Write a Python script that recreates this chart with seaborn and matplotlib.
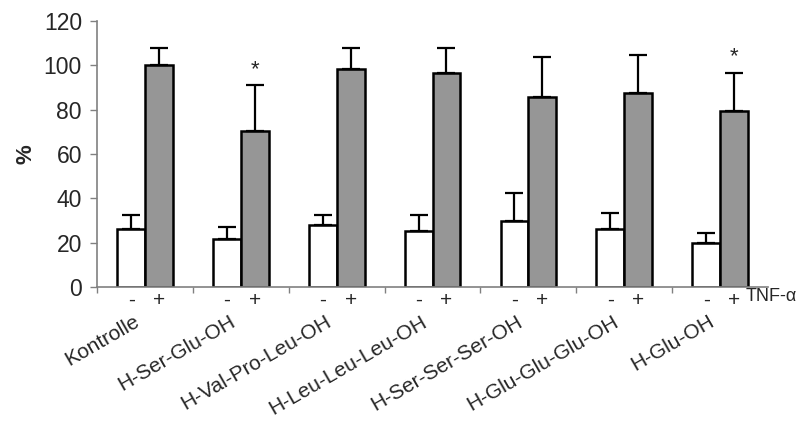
import matplotlib
matplotlib.use("Agg")
import matplotlib.pyplot as plt
import matplotlib.transforms as mtransforms
import seaborn as sns
import pandas as pd

# values (%)
groups = ["Kontrolle", "H-Ser-Glu-OH", "H-Val-Pro-Leu-OH", "H-Leu-Leu-Leu-OH",
          "H-Ser-Ser-Ser-OH", "H-Glu-Glu-Glu-OH", "H-Glu-OH"]
tnf_minus = [26.2, 21.7, 28.0, 25.4, 29.9, 26.2, 19.7]
tnf_minus_err = [6.3, 5.3, 4.5, 7.1, 12.6, 7.3, 4.7]
tnf_plus = [100.0, 70.4, 98.2, 96.5, 85.7, 87.4, 79.4]
tnf_plus_err = [8.0, 20.6, 9.8, 11.5, 17.9, 17.2, 17.3]
significant = [False, True, False, False, False, False, True]
yticks = [0, 20, 40, 60, 80, 100, 120]

df = pd.DataFrame({
    "group": groups * 2,
    "TNF": ["-"] * len(groups) + ["+"] * len(groups),
    "value": tnf_minus + tnf_plus,
})

sns.set_theme(style="ticks")
plt.rcParams["font.family"] = ["Liberation Sans", "DejaVu Sans"]

fig = plt.figure(figsize=(8.1, 4.21), dpi=100)
ax = fig.add_axes([0.12, 0.318, 0.828, 0.632])

sns.barplot(data=df, x="group", y="value", hue="TNF", order=groups,
            hue_order=["-", "+"], palette={"-": "white", "+": "#969696"},
            edgecolor="black", linewidth=1.8, width=0.58, errorbar=None,
            legend=False, ax=ax)

# upper error bars, signs under the bars, asterisks
errs = [tnf_minus_err, tnf_plus_err]
bar_conts = list(ax.containers)
for level, cont in enumerate(bar_conts):
    for i, bar in enumerate(cont.patches):
        xc = bar.get_x() + bar.get_width() / 2
        top = bar.get_height()
        ax.errorbar(xc, top, yerr=[[0], [errs[level][i]]], fmt="none",
                    ecolor="black", elinewidth=1.6, capsize=6.5, capthick=1.6,
                    zorder=1)
        ax.text(xc, -0.015, "-+"[level], transform=ax.get_xaxis_transform(),
                ha="center", va="top", fontsize=15)
        if level == 1 and significant[i]:
            ax.annotate("*", xy=(xc, top + errs[level][i]), xytext=(0, 4),
                        textcoords="offset points", ha="center", va="bottom",
                        fontsize=16)

last = bar_conts[1].patches[-1]
ax.text(last.get_x() + last.get_width() - 0.02, -0.005, "TNF-α",
        transform=ax.get_xaxis_transform(), ha="left", va="top", fontsize=13)

ax.set_xlim(-0.5, len(groups) - 0.5)
ax.set_ylim(0, 120)
ax.set_yticks(yticks)
ax.set_xticks(range(len(groups)))
ax.set_xticklabels([])
# rotated group names under the +/- row
shift = mtransforms.ScaledTranslation(-0.12, -0.25, fig.dpi_scale_trans)
for i, name in enumerate(groups):
    ax.text(i, 0, name, transform=ax.get_xaxis_transform() + shift,
            rotation=30, rotation_mode="anchor", ha="right", va="top",
            fontsize=15)
ax.set_xticks([i - 0.5 for i in range(len(groups))], minor=True)
ax.tick_params(axis="x", which="major", length=0)
ax.tick_params(axis="x", which="minor", length=4, direction="out",
               color="#808080", width=1)
ax.tick_params(axis="y", length=5, direction="out", color="#808080",
               width=1, labelsize=16.5, pad=6)
ax.set_xlabel("")
ax.set_ylabel("%", fontsize=16, fontweight="bold", labelpad=5)

for side in ["left", "bottom"]:
    ax.spines[side].set_color("#808080")
    ax.spines[side].set_linewidth(1.2)
sns.despine(ax=ax)

fig.savefig("out.png", dpi=100, facecolor="white")
